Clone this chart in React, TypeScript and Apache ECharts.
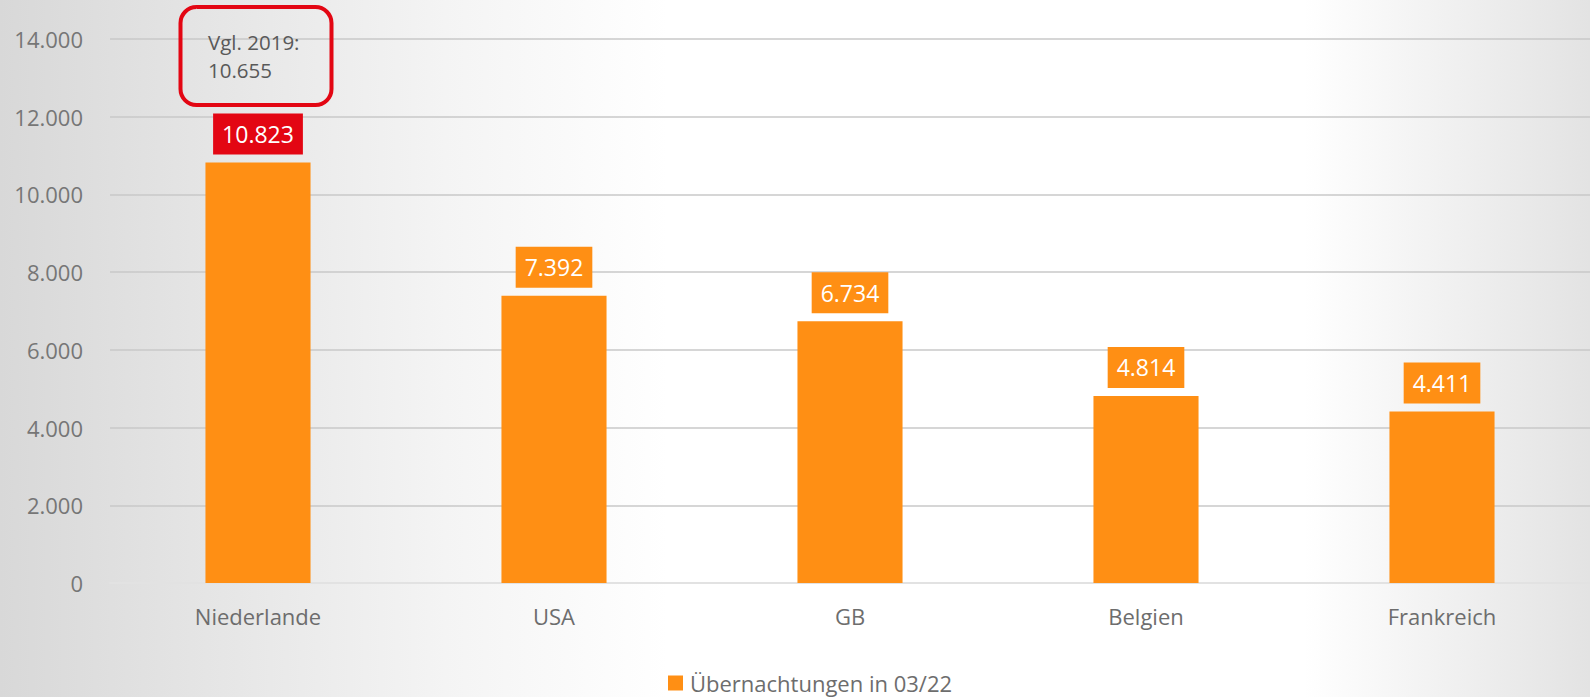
import React, { useEffect, useRef } from "react";
import * as echarts from "echarts";

const categories = ["Niederlande", "USA", "GB", "Belgien", "Frankreich"];
const values = [10823, 7392, 6734, 4814, 4411];
const seriesName = "Übernachtungen in 03/22";
const compareLines = ["Vgl. 2019:", "10.655"];
const yTicks = { min: 0, max: 14000, interval: 2000 };

const ORANGE = "#FF8F14";
const RED = "#E30613";
const FONT = "'Open Sans', 'Noto Sans', sans-serif";

const fmt = (v: number) => (v === 0 ? "0" : v.toLocaleString("de-DE"));

export default function App() {
  const ref = useRef<HTMLDivElement>(null);
  useEffect(() => {
    if (!ref.current) return;
    const chart = echarts.init(ref.current, null, { renderer: "svg" });
    chart.setOption({
      animation: false,
      backgroundColor: "transparent",
      textStyle: { fontFamily: FONT },
      grid: { left: 110, right: 0, top: 39, bottom: 114, containLabel: false },
      legend: {
        left: 668,
        top: 670,
        padding: 0,
        itemWidth: 15,
        itemHeight: 15,
        itemGap: 7,
        icon: "rect",
        textStyle: { fontSize: 22, lineHeight: 26, color: "#6d6d6d", fontFamily: FONT, padding: [0, 0, 0, 2] },
        data: [seriesName],
      },
      xAxis: {
        type: "category",
        data: categories,
        axisLine: { lineStyle: { color: "#e2e2e2", width: 2 } },
        axisTick: { show: false },
        axisLabel: { fontSize: 22, color: "#6d6d6d", margin: 22, fontFamily: FONT },
      },
      yAxis: {
        type: "value",
        min: yTicks.min,
        max: yTicks.max,
        interval: yTicks.interval,
        axisLine: { show: false },
        axisTick: { show: false },
        axisLabel: { fontSize: 22, color: "#767676", margin: 27, fontFamily: FONT, formatter: fmt },
        splitLine: { lineStyle: { color: "#c8c8c8", width: 1.5 } },
      },
      series: [
        {
          name: seriesName,
          type: "bar",
          barWidth: "35.5%",
          itemStyle: { color: ORANGE },
          data: values.map((v, i) => ({
            value: v,
            label: i === 0 ? { backgroundColor: RED } : undefined,
          })),
          label: {
            show: true,
            position: "top",
            distance: 8,
            color: "#ffffff",
            fontSize: 23,
            lineHeight: 27,
            fontFamily: FONT,
            backgroundColor: ORANGE,
            padding: [7, 9],
            formatter: (p: any) => fmt(p.value),
          },
        },
      ],
    });
    const [cx] = chart.convertToPixel({ seriesIndex: 0 }, [0, 0]) as number[];
    const [, cy] = chart.convertToPixel({ seriesIndex: 0 }, [0, 13560]) as number[];
    chart.setOption({
      graphic: [
        {
          type: "rect",
          shape: { x: cx - 77.5, y: cy - 49, width: 151, height: 98, r: 16 },
          style: { fill: "transparent", stroke: RED, lineWidth: 4 },
          z: 10,
        },
        {
          type: "text",
          x: cx - 50,
          y: cy,
          style: {
            text: compareLines.join("\n"),
            fill: "#595959",
            fontSize: 20.5,
            lineHeight: 28,
            fontFamily: FONT,
            verticalAlign: "middle",
            align: "left",
          },
          z: 10,
        },
      ],
    });
    return () => chart.dispose();
  }, []);
  return (
    <div
      ref={ref}
      style={{
        position: "absolute",
        left: 0,
        top: 0,
        width: 1590,
        height: 697,
        background:
          "linear-gradient(to right, #d8d8d8 0%, #f4f4f4 28%, #ffffff 42%, #ffffff 82%, #e3e3e3 100%)",
      }}
    />
  );
}
